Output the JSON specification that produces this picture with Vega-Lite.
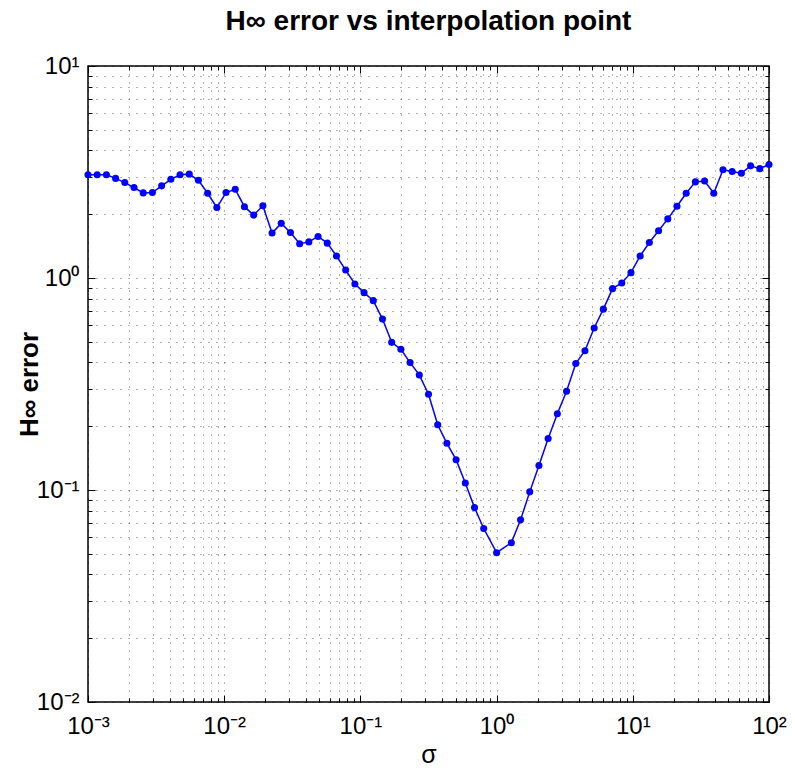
{
  "$schema": "https://vega.github.io/schema/vega-lite/v6.json",
  "width": 681,
  "height": 636,
  "autosize": {"type": "none"},
  "padding": {"left": 88, "top": 66, "right": 26, "bottom": 70},
  "background": "white",
  "config": {
    "view": {"stroke": "black", "strokeWidth": 1.5},
    "font": "Liberation Sans",
    "axis": {"labelColor": "black", "titleColor": "black", "labelFont": "Liberation Sans", "titleFont": "Liberation Sans"}
  },
  "title": {
    "text": "H∞ error vs interpolation point",
    "fontSize": 28,
    "fontWeight": "bold",
    "font": "Liberation Sans",
    "color": "black",
    "offset": 18
  },
  "data": {
    "values": [
      {"sigma": 0.001, "err": 3.07},
      {"sigma": 0.0011683, "err": 3.07},
      {"sigma": 0.001365, "err": 3.07},
      {"sigma": 0.0015948, "err": 2.95},
      {"sigma": 0.0018633, "err": 2.82},
      {"sigma": 0.002177, "err": 2.67},
      {"sigma": 0.0025434, "err": 2.52},
      {"sigma": 0.0029716, "err": 2.53},
      {"sigma": 0.0034718, "err": 2.72},
      {"sigma": 0.0040562, "err": 2.92},
      {"sigma": 0.0047391, "err": 3.07},
      {"sigma": 0.0055369, "err": 3.09},
      {"sigma": 0.0064689, "err": 2.89},
      {"sigma": 0.0075579, "err": 2.51},
      {"sigma": 0.0088302, "err": 2.15},
      {"sigma": 0.010316, "err": 2.53},
      {"sigma": 0.012053, "err": 2.62},
      {"sigma": 0.014082, "err": 2.17},
      {"sigma": 0.016452, "err": 1.98},
      {"sigma": 0.019222, "err": 2.19},
      {"sigma": 0.022458, "err": 1.63},
      {"sigma": 0.026238, "err": 1.81},
      {"sigma": 0.030655, "err": 1.64},
      {"sigma": 0.035816, "err": 1.45},
      {"sigma": 0.041845, "err": 1.48},
      {"sigma": 0.04889, "err": 1.57},
      {"sigma": 0.05712, "err": 1.46},
      {"sigma": 0.066736, "err": 1.27},
      {"sigma": 0.07797, "err": 1.09},
      {"sigma": 0.091096, "err": 0.937},
      {"sigma": 0.10642, "err": 0.853},
      {"sigma": 0.12434, "err": 0.782},
      {"sigma": 0.14528, "err": 0.64},
      {"sigma": 0.16973, "err": 0.497},
      {"sigma": 0.1983, "err": 0.461},
      {"sigma": 0.23168, "err": 0.399},
      {"sigma": 0.27068, "err": 0.349},
      {"sigma": 0.31623, "err": 0.283},
      {"sigma": 0.36946, "err": 0.203},
      {"sigma": 0.43165, "err": 0.166},
      {"sigma": 0.50431, "err": 0.139},
      {"sigma": 0.58921, "err": 0.108},
      {"sigma": 0.6884, "err": 0.0826},
      {"sigma": 0.80429, "err": 0.0658},
      {"sigma": 1.0, "err": 0.0506},
      {"sigma": 1.283, "err": 0.0564},
      {"sigma": 1.499, "err": 0.0723},
      {"sigma": 1.7513, "err": 0.098},
      {"sigma": 2.0461, "err": 0.1306},
      {"sigma": 2.3905, "err": 0.175},
      {"sigma": 2.7929, "err": 0.229},
      {"sigma": 3.263, "err": 0.292},
      {"sigma": 3.8123, "err": 0.395},
      {"sigma": 4.454, "err": 0.454},
      {"sigma": 5.2038, "err": 0.581},
      {"sigma": 6.0783, "err": 0.713},
      {"sigma": 7.1015, "err": 0.891},
      {"sigma": 8.2969, "err": 0.947},
      {"sigma": 9.6937, "err": 1.06},
      {"sigma": 11.325, "err": 1.27},
      {"sigma": 13.231, "err": 1.47},
      {"sigma": 15.459, "err": 1.67},
      {"sigma": 18.061, "err": 1.9},
      {"sigma": 21.101, "err": 2.18},
      {"sigma": 24.653, "err": 2.51},
      {"sigma": 28.803, "err": 2.84},
      {"sigma": 33.652, "err": 2.87},
      {"sigma": 39.316, "err": 2.51},
      {"sigma": 45.934, "err": 3.24},
      {"sigma": 53.666, "err": 3.18},
      {"sigma": 62.7, "err": 3.12},
      {"sigma": 73.255, "err": 3.38},
      {"sigma": 85.586, "err": 3.28},
      {"sigma": 100, "err": 3.43}
    ]
  },
  "layer": [
    {
      "mark": {"type": "line", "color": "#0000ff", "strokeWidth": 1.5, "point": {"filled": true, "size": 50, "color": "#0000ff", "opacity": 1}},
      "encoding": {
        "x": {
          "field": "sigma", "type": "quantitative",
          "scale": {"type": "log", "domain": [0.001, 100], "nice": false},
          "axis": {
            "orient": "bottom",
            "values": [0.001,0.002,0.003,0.004,0.005,0.006,0.007,0.008,0.009,0.01,0.02,0.03,0.04,0.05,0.06,0.07,0.08,0.09,0.1,0.2,0.3,0.4,0.5,0.6,0.7,0.8,0.9,1,2,3,4,5,6,7,8,9,10,20,30,40,50,60,70,80,90,100],
            "labelExpr": "datum.value==0.001?'10⁻³':datum.value==0.01?'10⁻²':datum.value==0.1?'10⁻¹':datum.value==1?'10⁰':datum.value==10?'10¹':datum.value==100?'10²':''",
            "labelOverlap": false,
            "labelFlush": false,
            "labelFontSize": 24,
            "labelPadding": 19,
            "domain": false,
            "grid": true,
            "gridColor": "#000000",
            "gridOpacity": 0.6,
            "gridDash": [1, 7],
            "gridWidth": 1,
            "tickColor": "black",
            "tickSize": {"condition": {"test": "datum.value==0.001||datum.value==0.01||datum.value==0.1||datum.value==1||datum.value==10||datum.value==100", "value": -7}, "value": -4},
            "title": "σ",
            "titleFontSize": 25,
            "titleFontWeight": "normal",
            "titlePadding": 1
          }
        },
        "y": {
          "field": "err", "type": "quantitative",
          "scale": {"type": "log", "domain": [0.01, 10], "nice": false},
          "axis": {
            "orient": "left",
            "values": [0.01,0.02,0.03,0.04,0.05,0.06,0.07,0.08,0.09,0.1,0.2,0.3,0.4,0.5,0.6,0.7,0.8,0.9,1,2,3,4,5,6,7,8,9,10],
            "labelExpr": "datum.value==0.01?'10⁻²':datum.value==0.1?'10⁻¹':datum.value==1?'10⁰':datum.value==10?'10¹':''",
            "labelOverlap": false,
            "labelFlush": false,
            "labelFontSize": 24,
            "labelPadding": 16,
            "domain": false,
            "grid": true,
            "gridColor": "#000000",
            "gridOpacity": 0.6,
            "gridDash": [1, 7],
            "gridWidth": 1,
            "tickColor": "black",
            "tickSize": {"condition": {"test": "datum.value==0.01||datum.value==0.1||datum.value==1||datum.value==10", "value": -7}, "value": -4},
            "title": "H∞ error",
            "titleFontSize": 26,
            "titleFontWeight": "bold",
            "titlePadding": -6
          }
        }
      }
    },
    {
      "mark": {"type": "point", "opacity": 0},
      "encoding": {
        "x": {
          "field": "sigma", "type": "quantitative",
          "scale": {"type": "log", "domain": [0.001, 100], "nice": false},
          "axis": {
            "orient": "top",
            "values": [0.001,0.002,0.003,0.004,0.005,0.006,0.007,0.008,0.009,0.01,0.02,0.03,0.04,0.05,0.06,0.07,0.08,0.09,0.1,0.2,0.3,0.4,0.5,0.6,0.7,0.8,0.9,1,2,3,4,5,6,7,8,9,10,20,30,40,50,60,70,80,90,100],
            "labels": false, "domain": false, "grid": false, "title": null,
            "tickColor": "black",
            "tickSize": {"condition": {"test": "datum.value==0.001||datum.value==0.01||datum.value==0.1||datum.value==1||datum.value==10||datum.value==100", "value": -7}, "value": -4}
          }
        },
        "y": {
          "field": "err", "type": "quantitative",
          "scale": {"type": "log", "domain": [0.01, 10], "nice": false},
          "axis": {
            "orient": "right",
            "values": [0.01,0.02,0.03,0.04,0.05,0.06,0.07,0.08,0.09,0.1,0.2,0.3,0.4,0.5,0.6,0.7,0.8,0.9,1,2,3,4,5,6,7,8,9,10],
            "labels": false, "domain": false, "grid": false, "title": null,
            "tickColor": "black",
            "tickSize": {"condition": {"test": "datum.value==0.01||datum.value==0.1||datum.value==1||datum.value==10", "value": -7}, "value": -4}
          }
        }
      }
    }
  ],
  "resolve": {"scale": {"x": "independent", "y": "independent"}, "axis": {"x": "independent", "y": "independent"}}
}
